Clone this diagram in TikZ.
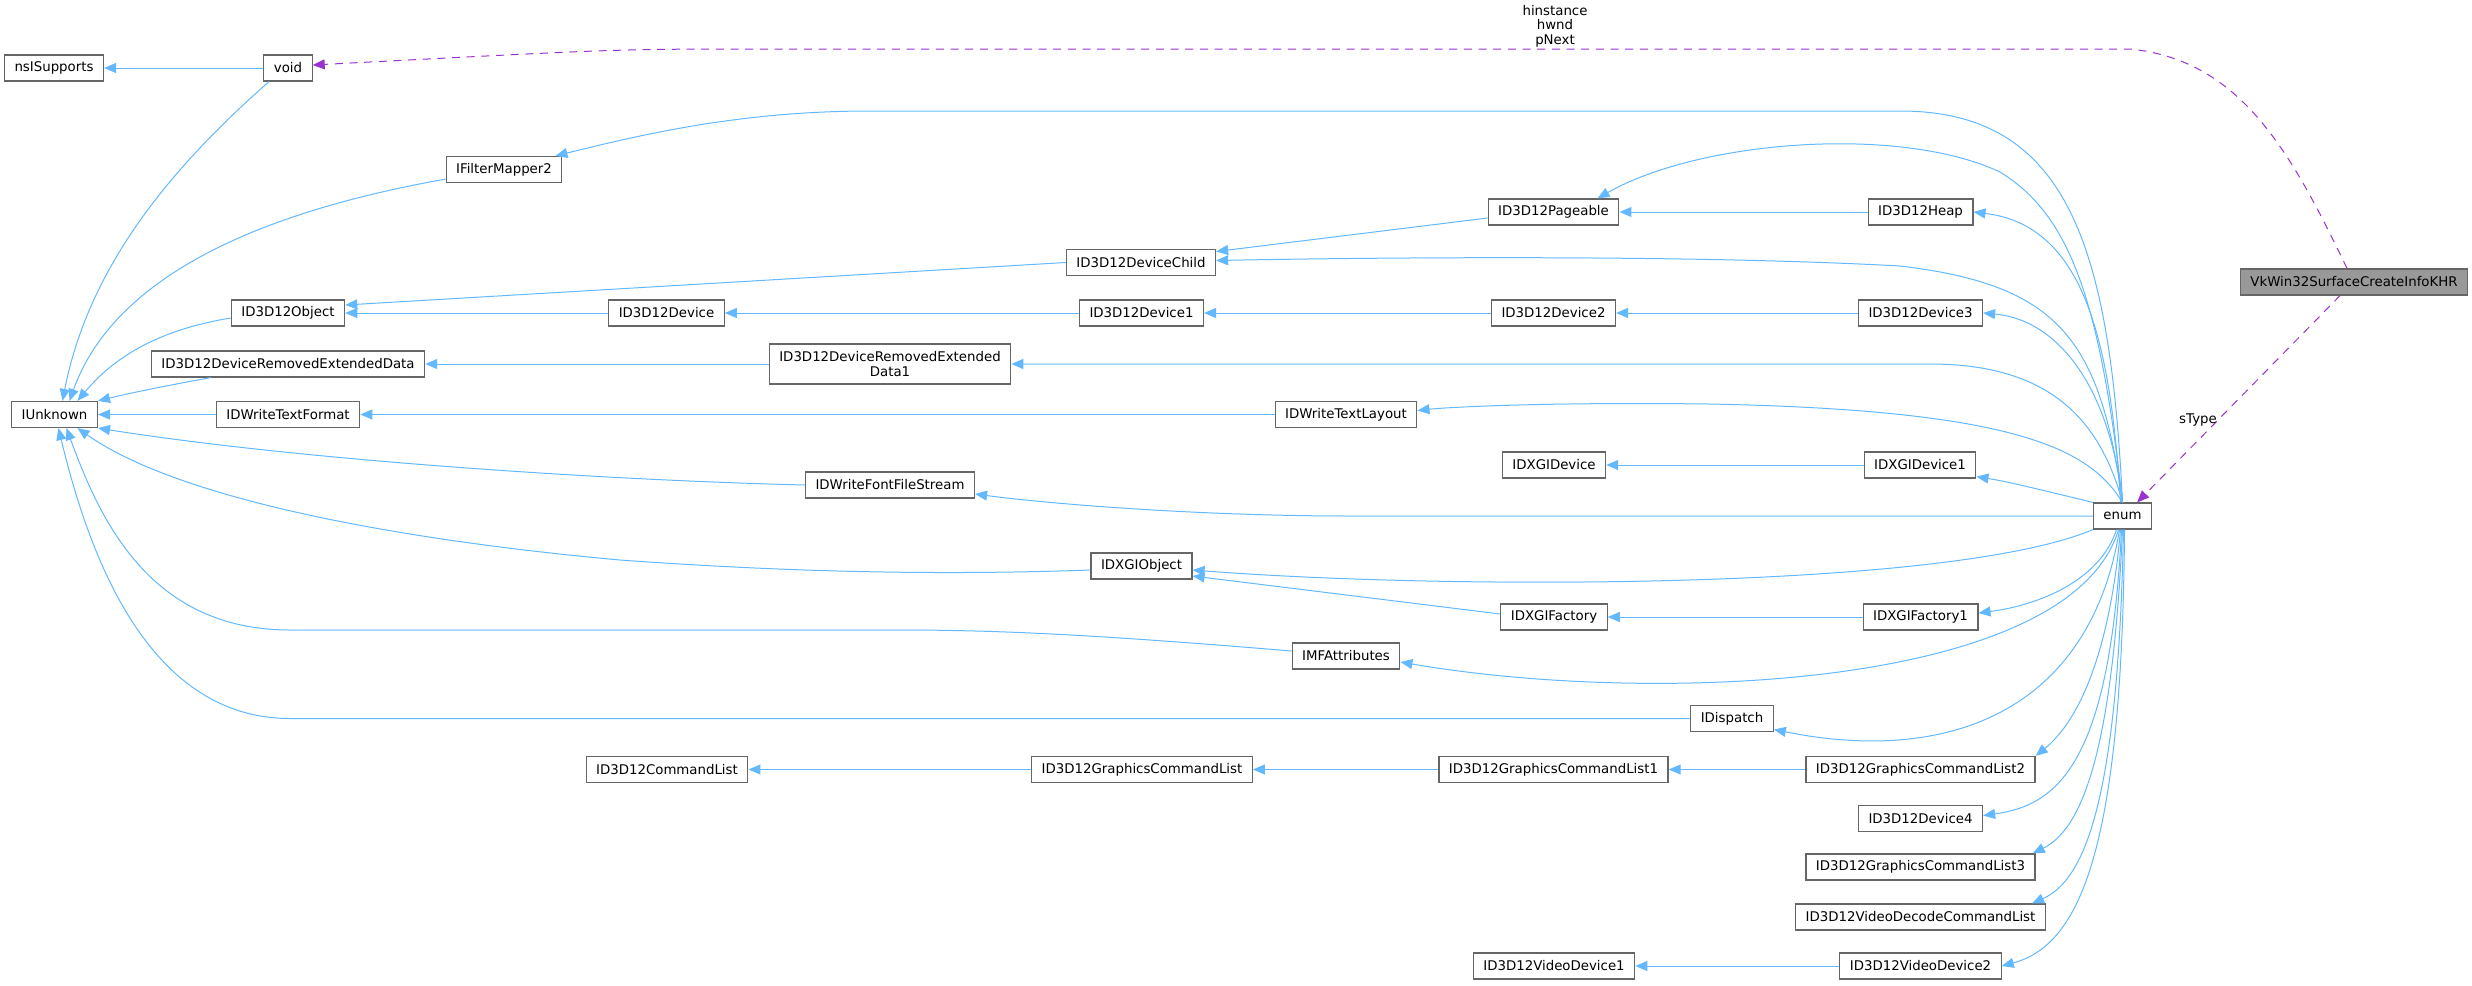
\documentclass[tikz,border=0pt]{standalone}
\usepackage{fontspec}
\setmainfont{DejaVu Sans}
\usepackage{tikz}
\usetikzlibrary{arrows.meta,calc}

\definecolor{edgeblue}{HTML}{63B8FF}
\definecolor{usepurple}{HTML}{9A32CD}
\definecolor{boxgray}{HTML}{666666}
\definecolor{rootgray}{HTML}{999999}

\begin{document}
\begin{tikzpicture}[x=0.75pt, y=-0.75pt,
	cls/.style={draw=boxgray, fill=white, line width=0.9pt, minimum height=19.5pt,
		inner xsep=7.5pt, inner ysep=2pt, font=\fontsize{10}{11.5}\selectfont},
	root/.style={cls, fill=rootgray},
	inh/.style={draw=edgeblue, line width=0.75pt, -{Triangle[length=9pt,width=7.5pt,fill=edgeblue]}},
	usage/.style={draw=usepurple, line width=0.75pt, dash pattern=on 6pt off 5pt,
		-{Triangle[length=9pt,width=7.5pt,fill=usepurple]}},
	elabel/.style={font=\fontsize{10}{10.9}\selectfont, align=center, inner sep=0pt}]
	\useasboundingbox (0,0) rectangle (2472,985);

	% classes
	\node[cls] (nsi) at (54,68) {nsISupports};
	\node[cls] (void) at (288,68) {void};
	\node[cls] (unk) at (54.5,414.5) {IUnknown};
	\node[cls] (ifm) at (504,169.5) {IFilterMapper2};
	\node[cls] (obj) at (288,313) {ID3D12Object};
	\node[cls] (dred) at (288,364) {ID3D12DeviceRemovedExtendedData};
	\node[cls] (twf) at (288,414.5) {IDWriteTextFormat};
	\node[cls] (dev) at (666.5,313) {ID3D12Device};
	\node[cls] (cl) at (667,769.5) {ID3D12CommandList};
	\node[cls, align=center, minimum height=30pt] (dred1) at (890,364) {ID3D12DeviceRemovedExtended\\Data1};
	\node[cls] (ffs) at (890,485) {IDWriteFontFileStream};
	\node[cls] (child) at (1141,262.5) {ID3D12DeviceChild};
	\node[cls] (dev1) at (1141.5,313) {ID3D12Device1};
	\node[cls] (xobj) at (1141.5,566) {IDXGIObject};
	\node[cls] (gcl) at (1142,769.5) {ID3D12GraphicsCommandList};
	\node[cls] (twl) at (1346,414.5) {IDWriteTextLayout};
	\node[cls] (mfa) at (1346,656) {IMFAttributes};
	\node[cls] (page) at (1553.5,212) {ID3D12Pageable};
	\node[cls] (dev2) at (1553.5,313) {ID3D12Device2};
	\node[cls] (xdev) at (1554,465) {IDXGIDevice};
	\node[cls] (xfac) at (1554,617) {IDXGIFactory};
	\node[cls] (gcl1) at (1553.5,769.5) {ID3D12GraphicsCommandList1};
	\node[cls] (vdev1) at (1554,966) {ID3D12VideoDevice1};
	\node[cls] (disp) at (1732,718.5) {IDispatch};
	\node[cls] (heap) at (1920.5,212) {ID3D12Heap};
	\node[cls] (dev3) at (1920.5,313) {ID3D12Device3};
	\node[cls] (xdev1) at (1920,465) {IDXGIDevice1};
	\node[cls] (xfac1) at (1920.5,617) {IDXGIFactory1};
	\node[cls] (gcl2) at (1920.5,769.5) {ID3D12GraphicsCommandList2};
	\node[cls] (dev4) at (1920.5,818.5) {ID3D12Device4};
	\node[cls] (gcl3) at (1920.5,867) {ID3D12GraphicsCommandList3};
	\node[cls] (vdcl) at (1920.5,917) {ID3D12VideoDecodeCommandList};
	\node[cls] (vdev2) at (1920.5,966) {ID3D12VideoDevice2};
	\node[cls] (enum) at (2122.5,516) {enum};
	\node[root] (vk) at (2354,282) {VkWin32SurfaceCreateInfoKHR};

	% inheritance to IUnknown
	\draw[inh] (void) -- (nsi);
	\draw[inh] ($(void.south)+(-19,0)$) .. controls (180,160) and (90,260) .. ($(unk.north)+(8,0)$);
	\draw[inh] ($(ifm.south west)+(0,-4)$) .. controls (300,205) and (120,260) .. ($(unk.north)+(15,0)$);
	\draw[inh] ($(obj.west)+(0,5)$) .. controls (170,328) and (120,350) .. ($(unk.north)+(23,0)$);
	\draw[inh] ($(dred.south west)+(60,0)$) .. controls (170,385) and (130,393) .. (unk.north east);
	\draw[inh] (twf) -- (unk);
	\draw[inh] (ffs.west) .. controls (600,480) and (300,460) .. (unk.south east);
	\draw[inh] ($(xobj.west)+(0,4)$) .. controls (950,575) and (800,573) .. (620,560)
		.. controls (400,540) and (180,500) .. ($(unk.south)+(23,0)$);
	\draw[inh] ($(mfa.west)+(0,-5)$) .. controls (1100,635) and (1000,630) .. (900,630) -- (290,630)
		.. controls (150,630) and (100,520) .. ($(unk.south)+(12,0)$);
	\draw[inh] (disp.west) -- (290,718.5) .. controls (150,718.5) and (90,560) .. ($(unk.south)+(4,0)$);

	% chains
	\draw[inh] (child.west) -- ($(obj.east)+(0,-8)$);
	\draw[inh] (dev) -- (obj);
	\draw[inh] ($(page.west)+(0,6)$) -- ($(child.east)+(0,-11)$);
	\draw[inh] (heap) -- (page);
	\draw[inh] (dev1) -- (dev);
	\draw[inh] (dev2) -- (dev1);
	\draw[inh] (dev3) -- (dev2);
	\draw[inh] (dred1) -- (dred);
	\draw[inh] (twl) -- (twf);
	\draw[inh] (xdev1) -- (xdev);
	\draw[inh] ($(xfac.west)+(0,-3)$) -- ($(xobj.east)+(0,10)$);
	\draw[inh] (xfac1) -- (xfac);
	\draw[inh] (gcl) -- (cl);
	\draw[inh] (gcl1) -- (gcl);
	\draw[inh] (gcl2) -- (gcl1);
	\draw[inh] (vdev2) -- (vdev1);

	% enum, upper side
	\draw[inh] (enum.north) .. controls (2110,250) and (2070,111) .. (1900,111) -- (870,111)
		.. controls (740,111) and (640,135) .. ($(ifm.north east)+(-7,0)$);
	\draw[inh] (enum.north) .. controls (2100,300) and (2070,215) .. (2000,172)
		.. controls (1900,125) and (1700,140) .. ($(page.north)+(44,0)$);
	\draw[inh] ($(enum.north)+(-2,0)$) .. controls (2110,330) and (2080,225) .. (heap.east);
	\draw[inh] (enum.north) .. controls (2100,340) and (2060,285) .. (1900,266)
		.. controls (1700,255) and (1400,257) .. ($(child.east)+(0,-2)$);
	\draw[inh] (enum.north) .. controls (2110,390) and (2060,320) .. (dev3.east);
	\draw[inh] (enum.north) .. controls (2100,420) and (2050,364) .. (1930,364) -- (dred1.east);
	\draw[inh] (enum.north) .. controls (2090,450) and (2020,410) .. (1709,404)
		.. controls (1550,402) and (1450,407) .. ($(twl.east)+(0,-4)$);
	\draw[inh] (enum.north west) .. controls (2050,492) and (2010,482) .. ($(xdev1.south east)+(0,-2)$);
	\draw[inh] (enum.west) -- (1350,516) .. controls (1200,516) and (1050,504) .. ($(ffs.east)+(0,9)$);
	\draw[inh] (enum.south west) .. controls (1950,590) and (1450,590) .. ($(xobj.east)+(0,4)$);

	% enum, lower side
	\draw[inh] ($(enum.south)+(-6,0)$) .. controls (2100,580) and (2040,605) .. ($(xfac1.east)+(0,-4)$);
	\draw[inh] ($(enum.south)+(-4,0)$) .. controls (2070,690) and (1650,705) .. ($(mfa.east)+(0,6)$);
	\draw[inh] ($(enum.south)+(-3,0)$) .. controls (2090,710) and (1950,765) .. ($(disp.east)+(0,11)$);
	\draw[inh] ($(enum.south)+(-2,0)$) .. controls (2110,650) and (2080,720) .. (gcl2.north east);
	\draw[inh] ($(enum.south)+(-1,0)$) .. controls (2110,760) and (2060,805) .. ($(dev4.east)+(0,-3)$);
	\draw[inh] (enum.south) .. controls (2112,760) and (2080,830) .. ($(gcl3.north east)+(-3,0)$);
	\draw[inh] ($(enum.south)+(1,0)$) .. controls (2118,800) and (2085,880) .. ($(vdcl.north east)+(-14,0)$);
	\draw[inh] ($(enum.south)+(2,0)$) .. controls (2122,850) and (2080,945) .. (vdev2.east);

	% members of the root
	\draw[usage] ($(vk.north)+(-7,0)$) .. controls (2290,150) and (2240,60) .. (2130,49) -- (700,49)
		.. controls (600,50) .. ($(void.east)+(0,-3)$);
	\node[elabel] (lblvoid) at (1555,26) {hinstance\\hwnd\\pNext};
	\draw[usage] ($(vk.south)+(-14,0)$) -- ($(enum.north east)+(-15,0)$);
	\node[elabel] (lblenum) at (2198,420) {sType};
\end{tikzpicture}
\end{document}
